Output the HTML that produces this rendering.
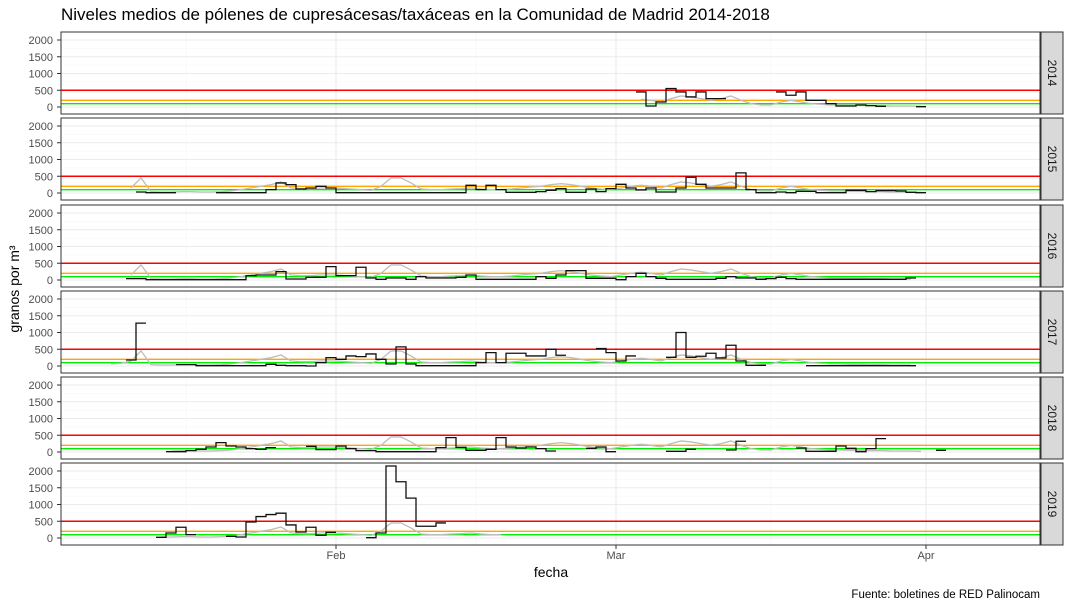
<!DOCTYPE html>
<html><head><meta charset="utf-8"><style>
body{margin:0;background:#fff}
svg{display:block;font-family:"Liberation Sans",sans-serif}
</style></head><body>
<svg id="chart" width="1073" height="608" viewBox="0 0 1073 608" xmlns="http://www.w3.org/2000/svg">
<rect width="1073" height="608" fill="#fff"/>
<text x="61" y="20" font-size="17" fill="#000">Niveles medios de pólenes de cupresácesas/taxáceas en la Comunidad de Madrid 2014-2018</text>
<text x="551" y="577" font-size="14" text-anchor="middle">fecha</text>
<text transform="translate(19,289) rotate(-90)" font-size="14" text-anchor="middle">granos por m³</text>
<text x="1040" y="598" font-size="11.5" text-anchor="end">Fuente: boletines de RED Palinocam</text>
<g id="panels"></g>
</svg>
<script>
const years = ["2014","2015","2016","2017","2018","2019"];
const yTicks = [0,500,1000,1500,2000];
const xTickLabels = ["Feb","Mar","Apr"];
const xTickDays = [31,59,90];
const thresholds = [100,200,500];
const thresholdColors = ["#00ee00","#ffa500","#ff0000"];
const start2014 = 61;
const vals2014 = [450,30,150,550,450,300,450,250,250,null,null,null,null,null,450,350,450,200,200,100,30,30,60,40,20,null,null,null,10];
const start2015 = 11;
const vals2015 = [30,10,10,10,null,null,null,null,10,10,10,10,10,100,300,250,120,150,200,150,10,10,10,10,10,10,10,10,10,10,10,10,10,230,100,230,100,20,20,20,40,80,130,20,20,120,40,130,260,150,90,150,30,30,150,470,260,150,150,150,600,100,10,10,30,10,50,50,10,10,10,80,80,40,70,70,60,20,10];
const start2016 = 10;
const vals2016 = [40,40,10,10,10,10,10,10,10,10,10,10,130,150,150,250,30,30,80,80,400,130,130,380,60,20,60,60,20,100,60,60,60,80,150,20,20,20,20,20,20,100,50,150,280,280,50,50,50,10,100,200,100,50,20,20,20,20,20,50,100,60,60,20,40,80,40,20,20,20,20,20,20,20,20,20,20,20,60];
const start2017 = 10;
const vals2017 = [180,1280,null,null,null,40,40,10,10,10,10,10,10,10,50,20,10,10,0,100,250,200,300,280,360,200,60,570,60,10,10,10,10,10,10,100,400,100,380,380,300,300,500,320,null,null,null,520,400,150,300,null,null,null,260,1000,260,290,380,240,620,150,20,20,null,null,null,null,10,10,10,10,10,10,10,10,10,10,10];
const start2018 = 14;
const vals2018 = [10,10,40,80,150,280,180,150,100,80,130,null,null,null,170,70,70,180,100,40,40,10,10,10,10,10,10,130,430,140,50,50,80,430,150,120,150,100,30,null,null,null,110,150,10,null,null,null,null,null,20,20,80,null,null,null,60,320,null,null,null,null,null,120,20,20,20,180,110,10,100,400,null,null,null,null,null,50];
const start2019 = 13;
const vals2019 = [20,150,320,100,null,null,null,50,30,480,640,700,740,390,180,320,80,170,null,null,null,10,150,2150,1680,1190,350,350,450];
const greyStart = 7;
const greyVals = [50,60,80,150,450,40,30,30,40,40,30,30,40,60,100,150,200,250,330,150,130,130,150,150,140,120,100,80,200,450,450,300,120,100,100,120,130,150,120,100,100,120,150,180,200,250,280,250,200,150,120,100,150,200,230,200,150,250,330,300,250,200,250,330,200,100,60,60,150,200,150,100,80,60,60,50,50,40,40,30,30,30,20,20];
const greyRanges = [[61,89],[10,89],[10,88],[8,88],[14,89],[13,47]];

const series = [[start2014,vals2014],[start2015,vals2015],[start2016,vals2016],[start2017,vals2017],[start2018,vals2018],[start2019,vals2019]];
const NS="http://www.w3.org/2000/svg";
const root=document.getElementById('panels');
const PX0=61, PX1=1040, PH=82;
const panelTops=[32,118,205,291,377,463];
function xs(t){return 26+10*t;}
function mk(tag,attrs,parent){const e=document.createElementNS(NS,tag);for(const k in attrs)e.setAttribute(k,attrs[k]);parent.appendChild(e);return e;}
years.forEach((yr,i)=>{
  const top=panelTops[i];
  const ys=v=>top+75-v*0.0335;
  const g=mk('g',{},root);
  
  
  const bg=mk('rect',{x:PX0,y:top,width:PX1-PX0,height:PH,fill:'#fff'},g);
  
  
  for(let k=0;k<yTicks.length-1;k++){mk('line',{x1:PX0,x2:PX1,y1:ys(yTicks[k]+250),y2:ys(yTicks[k]+250),stroke:'#f4f4f4','stroke-width':0.6},g);}
  const xmin=[16,45,74.5];
  xmin.forEach(t=>mk('line',{x1:xs(t),x2:xs(t),y1:top,y2:top+PH,stroke:'#f4f4f4','stroke-width':0.6},g));
  yTicks.forEach(v=>{
    mk('line',{x1:PX0,x2:PX1,y1:ys(v),y2:ys(v),stroke:'#ebebeb','stroke-width':1.1},g);
    const lab=mk('text',{x:53,y:ys(v)+4,'font-size':11,'text-anchor':'end',fill:'#4d4d4d'},g);
    lab.textContent=v;
    
    
    mk('line',{x1:57,x2:PX0,y1:ys(v),y2:ys(v),stroke:'#333','stroke-width':1},g);
  });
  xTickDays.forEach(t=>mk('line',{x1:xs(t),x2:xs(t),y1:top,y2:top+PH,stroke:'#ebebeb','stroke-width':1.1},g));
  thresholds.forEach((v,k)=>{
    const l=mk('line',{x1:PX0,x2:PX1,y1:ys(v),y2:ys(v),stroke:thresholdColors[k],'stroke-width':1.4},g);
    
    
  });
  const [g0,g1]=greyRanges[i];
  let gp=[];
  for(let t=g0;t<=g1;t++){const v=greyVals[t-greyStart];if(v!=null)gp.push(xs(t+0.5)+','+ys(v));}
  const gl=mk('polyline',{points:gp.join(' '),fill:'none',stroke:'#bdbdbd','stroke-width':1.3},g);
  
  
  const [s,vals]=series[i];
  let d='',pen=false;
  vals.forEach((v,k)=>{
    const t=s+k;
    if(v==null){pen=false;return;}
    if(!pen){d+='M'+xs(t)+' '+ys(v);pen=true;}
    else d+='V'+ys(v);
    d+='H'+xs(t+1);
  });
  const sl=mk('path',{d:d,fill:'none',stroke:'#111','stroke-width':1.3},g);
  
  
  mk('rect',{x:PX0,y:top,width:PX1-PX0,height:PH,fill:'none',stroke:'#333','stroke-width':1},g);
  const st=mk('rect',{x:PX1+1,y:top,width:22,height:PH,fill:'#d9d9d9',stroke:'#333','stroke-width':1},g);
  
  
  const stt=mk('text',{transform:'translate('+(PX1+8)+','+(top+PH/2)+') rotate(90)','font-size':12,'text-anchor':'middle',fill:'#1a1a1a'},g);
  stt.textContent=yr;
  
  
});
const bottom=panelTops[5]+PH;
xTickDays.forEach((t,k)=>{
  mk('line',{x1:xs(t),x2:xs(t),y1:bottom,y2:bottom+4,stroke:'#333','stroke-width':1},root);
  const lab=mk('text',{x:xs(t),y:bottom+14,'font-size':11,'text-anchor':'middle',fill:'#4d4d4d'},root);
  lab.textContent=xTickLabels[k];
  
  
});
</script>
</body></html>
